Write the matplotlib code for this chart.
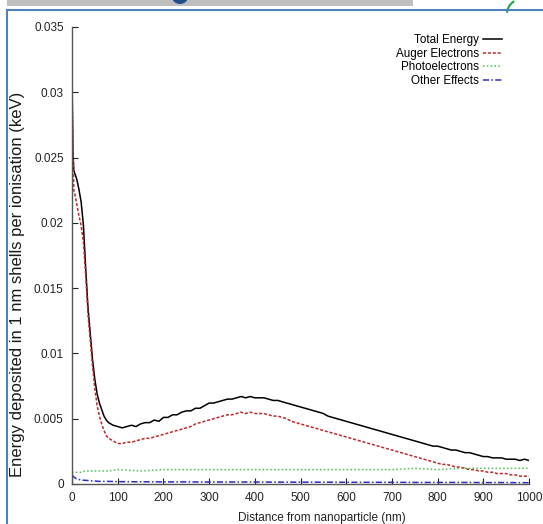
import matplotlib
matplotlib.use("Agg")
import matplotlib.pyplot as plt
from matplotlib.patches import Rectangle, Ellipse, Arc
from matplotlib.lines import Line2D

# distances (nm) and deposited energy (keV)
dist = [0, 2, 4, 7, 10, 15, 20, 25, 30, 35, 40, 45, 50, 55, 60, 65, 70, 75, 80, 90,
        100, 110, 120, 130, 140, 150, 160, 170, 180, 190, 200, 210, 220, 230, 240,
        250, 260, 270, 280, 290, 300, 310, 320, 330, 340, 350, 360, 370, 380, 390,
        400, 410, 420, 430, 440, 450, 460, 470, 480, 490, 500, 510, 520, 530, 540,
        550, 560, 570, 580, 590, 600, 610, 620, 630, 640, 650, 660, 670, 680, 690,
        700, 710, 720, 730, 740, 750, 760, 770, 780, 790, 800, 810, 820, 830, 840,
        850, 860, 870, 880, 890, 900, 910, 920, 930, 940, 950, 960, 970, 980, 990, 1000]

total = [0.0312, 0.0255, 0.0240, 0.0237, 0.0234, 0.0226, 0.0216, 0.0198, 0.0165, 0.0135,
         0.0115, 0.0095, 0.0080, 0.0069, 0.0062, 0.0057, 0.0052, 0.0049, 0.0047, 0.0045,
         0.0044, 0.0043, 0.0044, 0.0045, 0.0044, 0.0046, 0.0047, 0.0047, 0.0049, 0.0048,
         0.0051, 0.0051, 0.0053, 0.0053, 0.0055, 0.0056, 0.0056, 0.0058, 0.0058, 0.0060,
         0.0062, 0.0062, 0.0063, 0.0064, 0.0065, 0.0065, 0.0066, 0.0067, 0.0066, 0.0067,
         0.0066, 0.0066, 0.0066, 0.0065, 0.0064, 0.0064, 0.0063, 0.0062, 0.0061, 0.0060,
         0.0059, 0.0058, 0.0057, 0.0056, 0.0055, 0.0054, 0.0052, 0.0051, 0.0050, 0.0049,
         0.0048, 0.0047, 0.0046, 0.0045, 0.0044, 0.0043, 0.0042, 0.0041, 0.0040, 0.0039,
         0.0038, 0.0037, 0.0036, 0.0035, 0.0034, 0.0033, 0.0032, 0.0031, 0.0030, 0.0029,
         0.0029, 0.0028, 0.0027, 0.0026, 0.0026, 0.0025, 0.0024, 0.0024, 0.0023, 0.0022,
         0.0021, 0.0021, 0.0020, 0.0020, 0.0020, 0.0019, 0.0019, 0.0019, 0.0018, 0.0019, 0.0018]

auger = [0.0301, 0.0260, 0.0225, 0.0221, 0.0215, 0.0206, 0.0198, 0.0185, 0.0160, 0.0130,
         0.0110, 0.0090, 0.0073, 0.0060, 0.0052, 0.0046, 0.0041, 0.0037, 0.0035, 0.0033,
         0.0031, 0.0031, 0.0032, 0.0032, 0.0033, 0.0034, 0.0035, 0.0035, 0.0036, 0.0037,
         0.0038, 0.0039, 0.0040, 0.0041, 0.0042, 0.0043, 0.0044, 0.0046, 0.0047, 0.0048,
         0.0049, 0.0050, 0.0051, 0.0052, 0.0053, 0.0053, 0.0054, 0.0055, 0.0054, 0.0055,
         0.0054, 0.0054, 0.0054, 0.0053, 0.0052, 0.0052, 0.0051, 0.0050, 0.0048, 0.0047,
         0.0046, 0.0045, 0.0044, 0.0043, 0.0042, 0.0041, 0.0040, 0.0039, 0.0038, 0.0037,
         0.0036, 0.0035, 0.0034, 0.0033, 0.0032, 0.0031, 0.0030, 0.0029, 0.0028, 0.0027,
         0.0026, 0.0025, 0.0024, 0.0023, 0.0022, 0.0021, 0.0020, 0.0019, 0.0018, 0.0017,
         0.0016, 0.0015, 0.0015, 0.0014, 0.0013, 0.0013, 0.0012, 0.0011, 0.0011, 0.0010,
         0.0010, 0.0009, 0.0009, 0.0008, 0.0008, 0.0008, 0.0007, 0.0007, 0.0006, 0.0006, 0.0006]

dist_low = [0, 5, 10, 20, 30, 40, 60, 80, 100, 150, 200, 250, 300, 350, 400, 450, 500,
            550, 600, 650, 700, 750, 800, 850, 900, 950, 1000]
photo = [0.0009, 0.0009, 0.0009, 0.0009, 0.0010, 0.0010, 0.0010, 0.0010, 0.0011, 0.0010,
         0.0011, 0.0011, 0.0011, 0.0011, 0.0011, 0.0011, 0.0011, 0.0011, 0.0011, 0.0011,
         0.0011, 0.0012, 0.0011, 0.0012, 0.0012, 0.0012, 0.0012]
other = [0.0007, 0.0005, 0.0004, 0.0003, 0.00028, 0.00025, 0.0002, 0.0002, 0.00018, 0.00017,
         0.00016, 0.00016, 0.00015, 0.00015, 0.00015, 0.00014, 0.00014, 0.00014, 0.00013,
         0.00013, 0.00013, 0.00012, 0.00012, 0.00012, 0.00011, 0.00011, 0.0001]

xticks = [0, 100, 200, 300, 400, 500, 600, 700, 800, 900, 1000]
yticks = [0, 0.005, 0.01, 0.015, 0.02, 0.025, 0.03, 0.035]
ytick_labels = ["0", "0.005", "0.01", "0.015", "0.02", "0.025", "0.03", "0.035"]

plt.rcParams['font.family'] = ['Liberation Sans', 'DejaVu Sans']

fig = plt.figure(figsize=(5.43, 5.24), dpi=100)
W, H = 543, 524

# slide decorations around the chart
fig.add_artist(Rectangle((7 / W, 1 - 6 / H), 406 / W, 6 / H, transform=fig.transFigure,
                         facecolor="#bfbfbf", edgecolor="none"))
fig.add_artist(Ellipse((180 / W, 1 + 3 / H), 16 / W, 14 / H, transform=fig.transFigure,
                       facecolor="#1f4e8c", edgecolor="none"))
fig.add_artist(Arc((522 / W, 1 - 14 / H), 30 / W, 30 / H, theta1=120, theta2=175,
                   transform=fig.transFigure, color="#1aa34a", lw=1.5))
fig.add_artist(Line2D([7 / W, 7 / W], [0, 1 - 10 / H], transform=fig.transFigure,
                      color="#4f81bd", lw=1.5))
fig.add_artist(Line2D([7 / W, 1], [1 - 10 / H, 1 - 10 / H], transform=fig.transFigure,
                      color="#4f81bd", lw=1.5))

ax = fig.add_axes([72 / W, 40 / H, 457 / W, 457 / H])
ax.plot(dist, total, color="black", lw=1.1, label="Total Energy")
ax.plot(dist, auger, color="#c0282d", lw=1.1, ls=(0, (2, 1.2)), label="Auger Electrons")
ax.plot(dist_low, photo, color="#4cc24c", lw=1.1, ls=(0, (1, 1.5)), label="Photoelectrons")
ax.plot(dist_low, other, color="#2b2bc8", lw=1.1, ls=(0, (4, 1.5, 1, 1.5)), label="Other Effects")

ax.set_xlim(0, 1000)
ax.set_ylim(0, 0.035)
ax.set_xticks(xticks)
ax.set_xticklabels([str(t) for t in xticks])
ax.set_yticks(yticks)
ax.set_yticklabels(ytick_labels)
ax.tick_params(direction="in", length=4, width=0.8, labelsize=8.5, colors="#222222", pad=6)
ax.spines["top"].set_visible(False)
ax.spines["right"].set_visible(False)
for s in ("left", "bottom"):
    ax.spines[s].set_color("#555555")
    ax.spines[s].set_linewidth(1.0)

ax.set_xlabel("Distance from nanoparticle (nm)", fontsize=8.5, color="#222222")
ax.xaxis.set_label_coords(0.547, -0.062)
ax.set_ylabel("Energy deposited in 1 nm shells per ionisation (keV)", fontsize=12,
              color="#1a1a1a", va="center")
ax.yaxis.set_label_coords(-0.12, 0.4376)

leg = ax.legend(loc="upper right", bbox_to_anchor=(0.941, 0.984), frameon=False,
                fontsize=8.4, markerfirst=False, handlelength=1.6, labelspacing=0.13,
                handletextpad=0.4, borderpad=0, borderaxespad=0)
for t in leg.get_texts():
    t.set_ha("right")
leg._legend_box.align = "right"

fig.savefig("out.png", dpi=100)
